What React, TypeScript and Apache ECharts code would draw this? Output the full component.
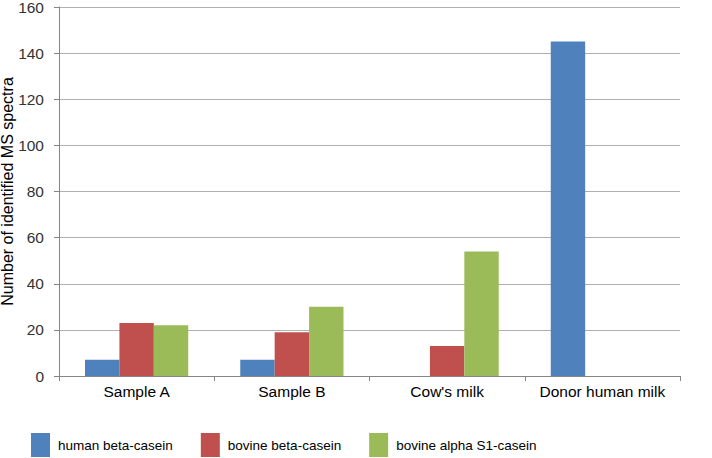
import React, { useEffect, useRef } from "react";
import * as echarts from "echarts";

const categories = ["Sample A", "Sample B", "Cow's milk", "Donor human milk"];
const seriesNames = ["human beta-casein", "bovine beta-casein", "bovine alpha S1-casein"];
const humanBeta = [7, 7, 0, 145];
const bovineBeta = [23, 19, 13, 0];
const bovineAlphaS1 = [22, 30, 54, 0];
const colors = ["#4f81bd", "#c0504d", "#9bbb59"];

export default function App() {
  const ref = useRef<HTMLDivElement>(null);
  useEffect(() => {
    if (!ref.current) return;
    const chart = echarts.init(ref.current, undefined, { renderer: "svg" });
    const font = "'Liberation Sans', Arial, sans-serif";
    const data = [humanBeta, bovineBeta, bovineAlphaS1];
    chart.setOption({
      animation: false,
      backgroundColor: "#ffffff",
      textStyle: { fontFamily: font },
      grid: { left: 59, right: 32, top: 7, bottom: 82, containLabel: false, outerBoundsMode: "none" },
      legend: {
        left: 31,
        top: 433,
        padding: 0,
        itemWidth: 19,
        itemHeight: 24,
        itemGap: 28,
        icon: "rect",
        textStyle: { fontFamily: font, fontSize: 13.5, width: 105, color: "#000", padding: [0, 0, 0, 3] },
        data: seriesNames,
      },
      xAxis: {
        type: "category",
        data: categories,
        axisLine: { lineStyle: { color: "#868686", width: 1 } },
        axisTick: { show: true, alignWithLabel: false, length: 5, lineStyle: { color: "#868686" } },
        axisLabel: { color: "#000", fontSize: 15.5, fontFamily: font, margin: 7, interval: 0 },
      },
      yAxis: {
        type: "value",
        min: 0,
        max: 160,
        interval: 20,
        name: "Number of identified MS spectra",
        nameLocation: "middle",
        nameGap: 44,
        nameMoveOverlap: false,
        nameTextStyle: { color: "#000", fontSize: 16, fontFamily: font },
        axisLine: { show: true, lineStyle: { color: "#868686" } },
        axisTick: { show: true, length: 5, lineStyle: { color: "#868686" } },
        axisLabel: { color: "#333", fontSize: 15.5, fontFamily: font, margin: 15 },
        splitLine: { lineStyle: { color: "#b0b0b0", width: 1 } },
      },
      series: seriesNames.map((name, i) => ({
        name,
        type: "bar",
        data: data[i],
        barGap: "0%",
        barCategoryGap: "33.5%",
        itemStyle: { color: colors[i] },
      })),
    });
    return () => chart.dispose();
  }, []);
  return <div ref={ref} style={{ width: 712, height: 458, position: "absolute", left: 0, top: 0 }} />;
}
